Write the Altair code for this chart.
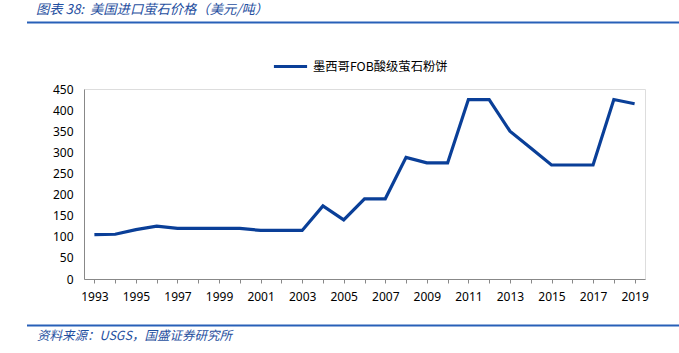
import altair as alt
import pandas as pd

years = list(range(1993, 2020))
prices = [105, 106, 117, 125, 120, 120, 120, 120, 115, 115, 115, 173, 140,
          190, 190, 288, 275, 275, 425, 425, 350, 310, 270, 270, 270, 425, 415]
series_name = "墨西哥FOB酸级萤石粉饼"
title_text = "图表 38:\u00a0 美国进口萤石价格（美元/吨）"
source_text = "资料来源：USGS，国盛证券研究所"

df = pd.DataFrame({"year": years, "price": prices, "series": series_name})

W, H = 561, 190
PL, PT = 84, 89
LINE_COLOR = "#0A3F98"
TXT_BLUE = "#1F4FA0"
CJK = "Noto Sans CJK SC"
NUM = "Noto Sans"

line = alt.Chart(df).mark_line(strokeWidth=3.2, color=LINE_COLOR).encode(
    x=alt.X("year:O",
            scale=alt.Scale(paddingInner=0, paddingOuter=0),
            axis=alt.Axis(title=None, bandPosition=0,
                          labelAngle=0, labelExpr="datum.value % 2 == 1 ? datum.label : ''",
                          labelFont=NUM, labelFontSize=12, labelColor="#000000",
                          tickSize=4, tickColor="#888888", domainColor="#888888",
                          labelPadding=8, grid=False)),
    y=alt.Y("price:Q",
            scale=alt.Scale(domain=[0, 450], nice=False),
            axis=alt.Axis(title=None, values=list(range(0, 451, 50)),
                          labelFont=NUM, labelFontSize=12, labelColor="#000000",
                          ticks=False, domainColor="#888888", labelPadding=11,
                          grid=False)),
    color=alt.Color("series:N",
                    scale=alt.Scale(range=[LINE_COLOR]),
                    legend=alt.Legend(orient="none", legendX=188, legendY=-41,
                                      title=None, symbolType="stroke",
                                      symbolSize=1100, symbolStrokeWidth=3,
                                      labelFont=CJK, labelFontSize=12.3,
                                      labelColor="#000000")),
)

rule_df = pd.DataFrame({"k": [0]})

top_rule = alt.Chart(rule_df).mark_rule(color="#2860B8", strokeWidth=2).encode(
    x=alt.value(27 - PL), x2=alt.value(679 - PL), y=alt.value(22.5 - PT))
bottom_rule = alt.Chart(rule_df).mark_rule(color="#2860B8", strokeWidth=2).encode(
    x=alt.value(27 - PL), x2=alt.value(679 - PL), y=alt.value(325.5 - PT))

title = alt.Chart(rule_df).mark_text(
    text=title_text, font=CJK, fontSize=13.3, fontStyle="italic", color=TXT_BLUE,
    align="left", baseline="alphabetic").encode(
    x=alt.value(36 - PL), y=alt.value(13.5 - PT))
source = alt.Chart(rule_df).mark_text(
    text=source_text, font=CJK, fontSize=12.5, fontStyle="italic", color=TXT_BLUE,
    align="left", baseline="alphabetic").encode(
    x=alt.value(37 - PL), y=alt.value(339.5 - PT))

chart = alt.layer(line, top_rule, bottom_rule, title, source).properties(
    width=W, height=H,
    autosize=alt.AutoSizeParams(type="none"),
    padding={"left": PL, "top": PT, "right": 679 - PL - W, "bottom": 353 - PT - H},
).configure_view(stroke=None).configure(background="white")

chart.save("out.html", embed_options={"renderer": "svg", "actions": False})
